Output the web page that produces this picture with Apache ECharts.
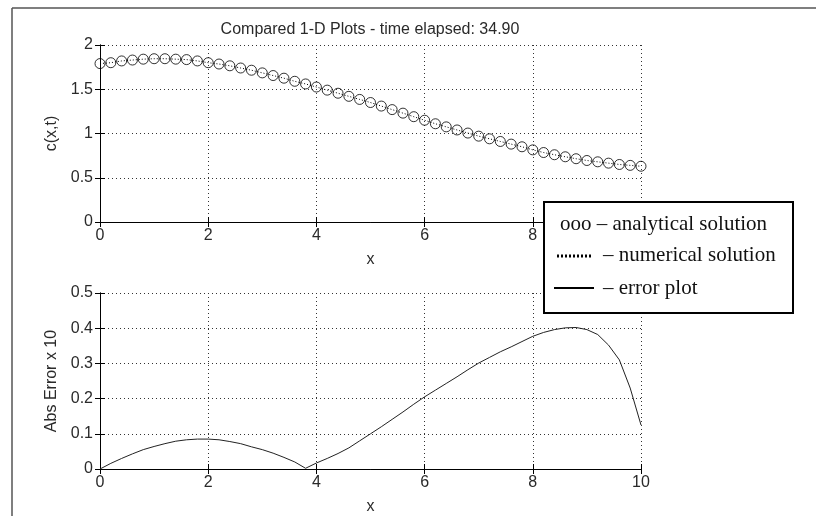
<!DOCTYPE html>
<html>
<head>
<meta charset="utf-8">
<title>Compared 1-D Plots</title>
<script src="https://cdn.jsdelivr.net/npm/echarts@6/dist/echarts.min.js"></script>
<style>
  html, body { margin: 0; padding: 0; background: #fff; }
  #main { width: 816px; height: 516px; }
</style>
</head>
<body>
<div id="main"></div>
<script>
// x positions of the samples (step 0.2)
var xs = [0, 0.2, 0.4, 0.6, 0.8, 1.0, 1.2, 1.4, 1.6, 1.8,
  2.0, 2.2, 2.4, 2.6, 2.8, 3.0, 3.2, 3.4, 3.6, 3.8,
  4.0, 4.2, 4.4, 4.6, 4.8, 5.0, 5.2, 5.4, 5.6, 5.8,
  6.0, 6.2, 6.4, 6.6, 6.8, 7.0, 7.2, 7.4, 7.6, 7.8,
  8.0, 8.2, 8.4, 8.6, 8.8, 9.0, 9.2, 9.4, 9.6, 9.8, 10.0]

// analytical solution c(x,t) (circles)
var analytical = [1.79, 1.80, 1.82, 1.83, 1.84, 1.845, 1.845, 1.84, 1.835, 1.82,
  1.80, 1.785, 1.765, 1.74, 1.715, 1.685, 1.655, 1.625, 1.59, 1.56,
  1.525, 1.49, 1.455, 1.42, 1.385, 1.35, 1.31, 1.27, 1.23, 1.19,
  1.15, 1.11, 1.075, 1.04, 1.005, 0.97, 0.94, 0.91, 0.88, 0.85,
  0.815, 0.785, 0.76, 0.737, 0.715, 0.695, 0.68, 0.665, 0.65, 0.64, 0.63]

// numerical solution (dotted line, lies on the circles)
var numerical = [1.79, 1.80, 1.82, 1.83, 1.84, 1.845, 1.845, 1.84, 1.835, 1.82,
  1.80, 1.785, 1.765, 1.74, 1.715, 1.685, 1.655, 1.625, 1.59, 1.56,
  1.525, 1.49, 1.455, 1.42, 1.385, 1.35, 1.31, 1.27, 1.23, 1.19,
  1.15, 1.11, 1.075, 1.04, 1.005, 0.97, 0.94, 0.91, 0.88, 0.85,
  0.815, 0.785, 0.76, 0.737, 0.715, 0.695, 0.68, 0.665, 0.65, 0.64, 0.63]

// abs error x 10
var absError = [0, 0.016, 0.03, 0.043, 0.055, 0.064, 0.072, 0.079, 0.083, 0.085,
  0.085, 0.083, 0.078, 0.072, 0.063, 0.055, 0.045, 0.033, 0.02, 0.002,
  0.017, 0.03, 0.044, 0.06, 0.08, 0.10, 0.12, 0.141, 0.162, 0.184,
  0.205, 0.224, 0.243, 0.262, 0.282, 0.301, 0.317, 0.333, 0.347, 0.362,
  0.377, 0.388, 0.396, 0.401, 0.402, 0.396, 0.382, 0.352, 0.31, 0.23, 0.125]

var legendLines = ['ooo \u2013 analytical solution', '\u2013 numerical solution', '\u2013 error plot']

function pairs(ys) {
  return xs.map(function (x, i) { return [x, ys[i]] })
}

var font = 'Liberation Sans, Arial, sans-serif'
var serif = '21px "Liberation Serif", "Times New Roman", serif'
var labelStyle = { color: '#2a2a2a', fontSize: 16, fontFamily: font }
var nameStyle = { color: '#2a2a2a', fontSize: 16, fontFamily: font }
var dotted = { type: [1, 3], color: '#333', width: 1 }

function xAxisFor(grid) {
  return [{
    type: 'value', gridIndex: grid, min: 0, max: 10, interval: 2,
    name: 'x', nameLocation: 'middle', nameGap: 30, nameTextStyle: nameStyle,
    axisLine: { lineStyle: { color: '#000' } },
    axisTick: { inside: true, length: 5, lineStyle: { color: '#000' } },
    axisLabel: Object.assign({ margin: 6 }, labelStyle),
    splitLine: { show: true, lineStyle: dotted }
  }, {
    type: 'value', gridIndex: grid, position: 'top', min: 0, max: 10, interval: 2,
    axisLine: { lineStyle: { color: '#000' } },
    axisTick: { inside: true, length: 5, lineStyle: { color: '#000' } },
    axisLabel: { show: false }, splitLine: { show: false }
  }]
}

function yAxisFor(grid, max, step, name) {
  return [{
    type: 'value', gridIndex: grid, min: 0, max: max, interval: step,
    name: name, nameLocation: 'middle', nameGap: 37, nameTextStyle: nameStyle,
    axisLine: { lineStyle: { color: '#000' } },
    axisTick: { inside: true, length: 5, lineStyle: { color: '#000' } },
    axisLabel: Object.assign({ margin: 7 }, labelStyle),
    splitLine: { show: true, lineStyle: dotted }
  }, {
    type: 'value', gridIndex: grid, position: 'right', min: 0, max: max, interval: step,
    axisLine: { lineStyle: { color: '#000' } },
    axisTick: { inside: true, length: 5, lineStyle: { color: '#000' } },
    axisLabel: { show: false }, splitLine: { show: false }
  }]
}

var chart = echarts.init(document.getElementById('main'), null, { renderer: 'canvas' })

var legendX = 543, legendY = 201

var option = {
  backgroundColor: '#fff',
  animation: false,
  title: {
    text: 'Compared 1-D Plots - time elapsed: 34.90',
    left: 365, top: 17, textAlign: 'center',
    textStyle: { color: '#2a2a2a', fontSize: 16, fontWeight: 'normal', fontFamily: font }
  },
  grid: [
    { left: 100, top: 45, width: 541, height: 177 },
    { left: 100, top: 293, width: 541, height: 178 }
  ],
  xAxis: xAxisFor(0).concat(xAxisFor(1)),
  yAxis: yAxisFor(0, 2, 0.5, 'c(x,t)').concat(yAxisFor(1, 0.5, 0.1, 'Abs Error x 10')),
  series: [
    {
      name: 'numerical solution', type: 'line', xAxisIndex: 0, yAxisIndex: 0,
      data: pairs(numerical), showSymbol: false,
      lineStyle: { color: '#000', width: 1, type: [1, 2] }
    },
    {
      name: 'analytical solution', type: 'scatter', xAxisIndex: 0, yAxisIndex: 0,
      data: pairs(analytical), symbol: 'circle', symbolSize: 10,
      itemStyle: { color: 'rgba(0,0,0,0)', borderColor: '#000', borderWidth: 1 }
    },
    {
      name: 'error plot', type: 'line', xAxisIndex: 2, yAxisIndex: 2,
      data: pairs(absError), showSymbol: false,
      lineStyle: { color: '#222', width: 1 }
    }
  ],
  graphic: [
    // figure frame
    { type: 'line', shape: { x1: 12, y1: 8, x2: 816, y2: 8 }, style: { stroke: '#555', lineWidth: 1.5 } },
    { type: 'line', shape: { x1: 12, y1: 8, x2: 12, y2: 516 }, style: { stroke: '#555', lineWidth: 1.5 } },
    // legend box, drawn over the plots
    {
      type: 'group', left: legendX, top: legendY, z: 100, zlevel: 1,
      children: [
        { type: 'rect', z: 100, zlevel: 1, shape: { x: 0, y: 0, width: 249, height: 111 },
          style: { fill: '#fff', stroke: '#000', lineWidth: 2 } },
        { type: 'text', z: 101, zlevel: 1, x: 16, y: 22,
          style: { text: legendLines[0], font: serif, fill: '#111', verticalAlign: 'middle' } },
        { type: 'line', z: 101, zlevel: 1, shape: { x1: 13, y1: 54, x2: 48, y2: 54 },
          style: { stroke: '#000', lineWidth: 3, lineDash: [2, 2] } },
        { type: 'text', z: 101, zlevel: 1, x: 59, y: 53,
          style: { text: legendLines[1], font: serif, fill: '#111', verticalAlign: 'middle' } },
        { type: 'line', z: 101, zlevel: 1, shape: { x1: 10, y1: 86, x2: 50, y2: 86 },
          style: { stroke: '#000', lineWidth: 2 } },
        { type: 'text', z: 101, zlevel: 1, x: 59, y: 86,
          style: { text: legendLines[2], font: serif, fill: '#111', verticalAlign: 'middle' } }
      ]
    }
  ]
}

chart.setOption(option)
</script>
</body>
</html>
